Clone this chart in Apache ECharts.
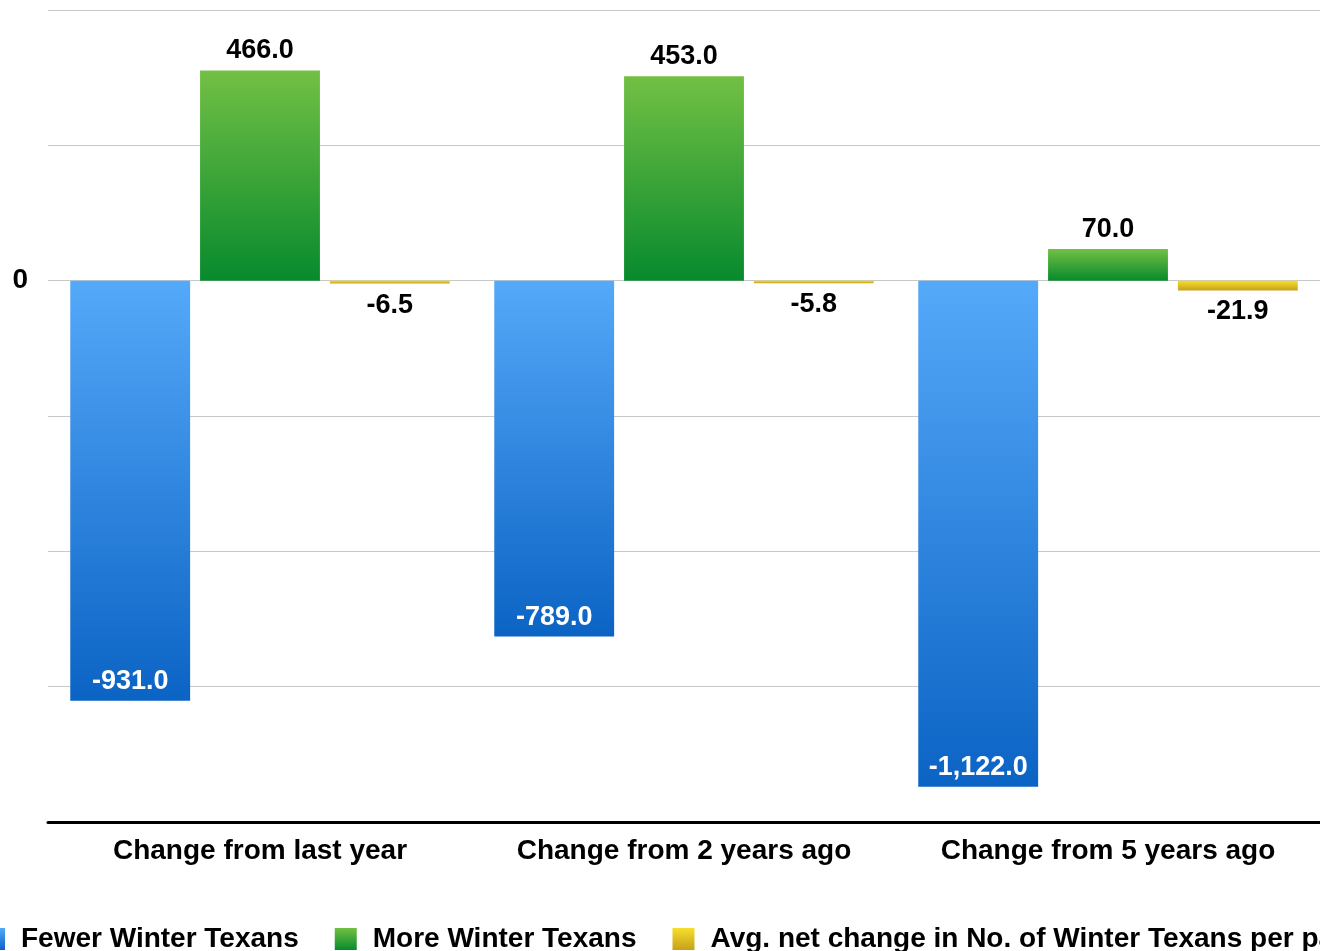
<!DOCTYPE html>
<html>
<head>
<meta charset="utf-8">
<script src="https://cdn.jsdelivr.net/npm/echarts@6/dist/echarts.min.js"></script>
<style>
  html, body { margin: 0; padding: 0; background: #fff; }
  #chart { width: 1320px; height: 951px; }
</style>
</head>
<body>
<div id="chart"></div>
<script>
// Winter Texans: change in counts across three comparison periods
const categories = ['Change from last year', 'Change from 2 years ago', 'Change from 5 years ago'];
const fewerWinterTexans = [-931.0, -789.0, -1122.0];
const moreWinterTexans = [466.0, 453.0, 70.0];
const avgNetChange = [-6.5, -5.8, -21.9];
const seriesNames = ['Fewer Winter Texans', 'More Winter Texans', 'Avg. net change in No. of Winter Texans per park'];

const FONT = '"Liberation Sans", Arial, Helvetica, sans-serif';

function vgrad(top, bottom) {
  return new echarts.graphic.LinearGradient(0, 0, 0, 1, [
    { offset: 0, color: top },
    { offset: 1, color: bottom }
  ]);
}

const fmt = (v) => Number(v).toLocaleString('en-US', { minimumFractionDigits: 1, maximumFractionDigits: 1 });

const labelBase = {
  show: true,
  fontFamily: FONT,
  fontWeight: 'bold',
  fontSize: 27,
  formatter: (p) => fmt(p.value)
};

const chart = echarts.init(document.getElementById('chart'), null, { renderer: 'canvas' });

chart.setOption({
  animation: false,
  backgroundColor: '#ffffff',
  grid: { left: 48, right: 0, top: 10, bottom: 129, containLabel: false },
  legend: {
    left: -22,
    top: 920,
    width: 3000,
    itemWidth: 22,
    itemHeight: 22,
    itemGap: 36,
    icon: 'rect',
    textStyle: { fontFamily: FONT, fontWeight: 'bold', fontSize: 28, color: '#000', padding: [0, 0, 0, 11] },
    data: seriesNames
  },
  xAxis: {
    type: 'category',
    data: categories,
    axisLine: { show: true, onZero: false, lineStyle: { color: '#000', width: 3 } },
    axisTick: { show: false },
    axisLabel: { interval: 0, fontFamily: FONT, fontWeight: 'bold', fontSize: 28, color: '#000', margin: 15 }
  },
  yAxis: {
    type: 'value',
    min: -1200,
    max: 600,
    interval: 300,
    axisLine: { show: false },
    axisTick: { show: false },
    splitLine: { show: true, lineStyle: { color: '#c8c8c8', width: 1 } },
    axisLabel: {
      fontFamily: FONT, fontWeight: 'bold', fontSize: 28, color: '#000', margin: 20,
      formatter: (v) => (v === 0 ? '0' : '')
    }
  },
  series: [
    {
      name: seriesNames[0],
      type: 'bar',
      data: fewerWinterTexans,
      barGap: '8.3%',
      barCategoryGap: '10.5%',
      itemStyle: { color: vgrad('#55a9f9', '#0b63c4') },
      label: Object.assign({}, labelBase, { position: 'insideBottom', distance: 6, color: '#fff' })
    },
    {
      name: seriesNames[1],
      type: 'bar',
      data: moreWinterTexans,
      itemStyle: { color: vgrad('#72c044', '#078a2d') },
      label: Object.assign({}, labelBase, { position: 'top', distance: 6, color: '#000' })
    },
    {
      name: seriesNames[2],
      type: 'bar',
      data: avgNetChange,
      itemStyle: { color: vgrad('#f6df2c', '#c7a11b') },
      label: Object.assign({}, labelBase, { position: 'bottom', distance: 8, color: '#000' })
    }
  ]
});
</script>
</body>
</html>
